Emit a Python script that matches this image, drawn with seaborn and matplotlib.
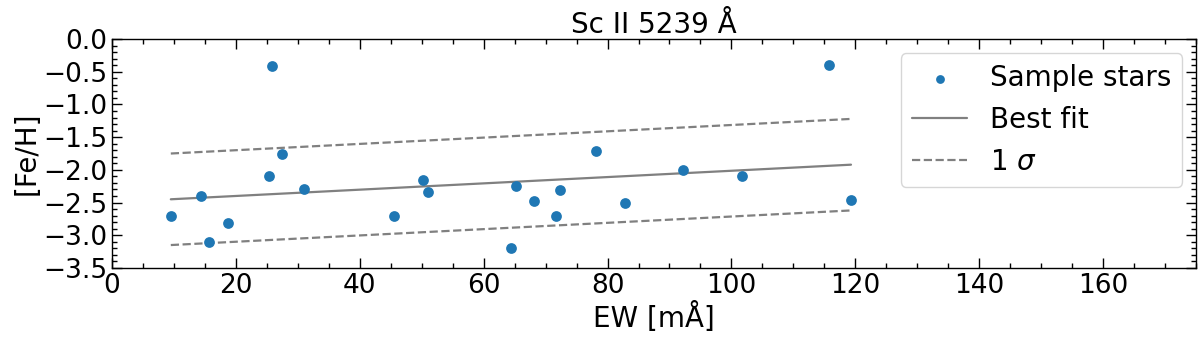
import numpy as np
import pandas as pd
import matplotlib
matplotlib.use("Agg")
import matplotlib.pyplot as plt
from matplotlib.ticker import MultipleLocator
import seaborn as sns

# Sc II 5239 A line: equivalent width vs metallicity
ew = [9.5, 14.4, 15.6, 18.7, 25.8, 25.4, 27.4, 31.0, 45.5, 50.2, 51.0,
      64.4, 65.3, 68.2, 71.7, 72.3, 78.1, 82.8, 92.2, 101.7, 115.7, 119.3]
feh = [-2.70, -2.40, -3.10, -2.81, -0.41, -2.10, -1.76, -2.30, -2.70, -2.15, -2.34,
       -3.20, -2.25, -2.47, -2.70, -2.31, -1.71, -2.50, -2.00, -2.10, -0.39, -2.46]

# fit parameters
slope = 0.00482
intercept = -2.496
sigma = 0.70

df = pd.DataFrame({"ew": ew, "feh": feh})
xfit = np.array([min(ew), max(ew)])
fit = pd.DataFrame({"ew": xfit, "best": slope * xfit + intercept})
fit["upper"] = fit["best"] + sigma
fit["lower"] = fit["best"] - sigma

sns.set_style("ticks")
plt.rcParams["font.family"] = ["DejaVu Sans"]
for k in ["text.color", "axes.labelcolor", "xtick.color", "ytick.color", "axes.edgecolor"]:
    plt.rcParams[k] = "black"

fig = plt.figure(figsize=(12, 3.37), dpi=100)
ax = fig.add_axes([0.0933, 0.205, 0.9034, 0.679])

sns.scatterplot(data=df, x="ew", y="feh", ax=ax, color="#1f77b4", s=60,
                linewidth=0, label="Sample stars", zorder=3)
sns.lineplot(data=fit, x="ew", y="best", ax=ax, color="grey", lw=1.6,
             label="Best fit")
sns.lineplot(data=fit, x="ew", y="upper", ax=ax, color="grey", lw=1.6,
             linestyle="--", label="1 $\\sigma$")
sns.lineplot(data=fit, x="ew", y="lower", ax=ax, color="grey", lw=1.6,
             linestyle="--")

ax.set_xlim(0, 175)
ax.set_ylim(-3.5, 0)
ax.xaxis.set_major_locator(MultipleLocator(20))
ax.xaxis.set_minor_locator(MultipleLocator(5))
ax.yaxis.set_major_locator(MultipleLocator(0.5))
ax.yaxis.set_minor_locator(MultipleLocator(0.1))
ax.tick_params(which="both", direction="in", top=True, right=True, labelsize=19)
ax.tick_params(which="major", length=7, width=1)
ax.tick_params(which="minor", length=3.5, width=1)
for s in ax.spines.values():
    s.set_linewidth(1)

ax.set_xlabel("EW [mÅ]", fontsize=20, labelpad=2)
ax.set_ylabel("[Fe/H]", fontsize=20, labelpad=2)
ax.set_title("Sc II 5239 Å", fontsize=20, pad=3)

leg = ax.legend(loc="upper right", fontsize=20, frameon=True)
leg.legend_handles[0].set_sizes([40])

fig.savefig("out.png", dpi=100)
